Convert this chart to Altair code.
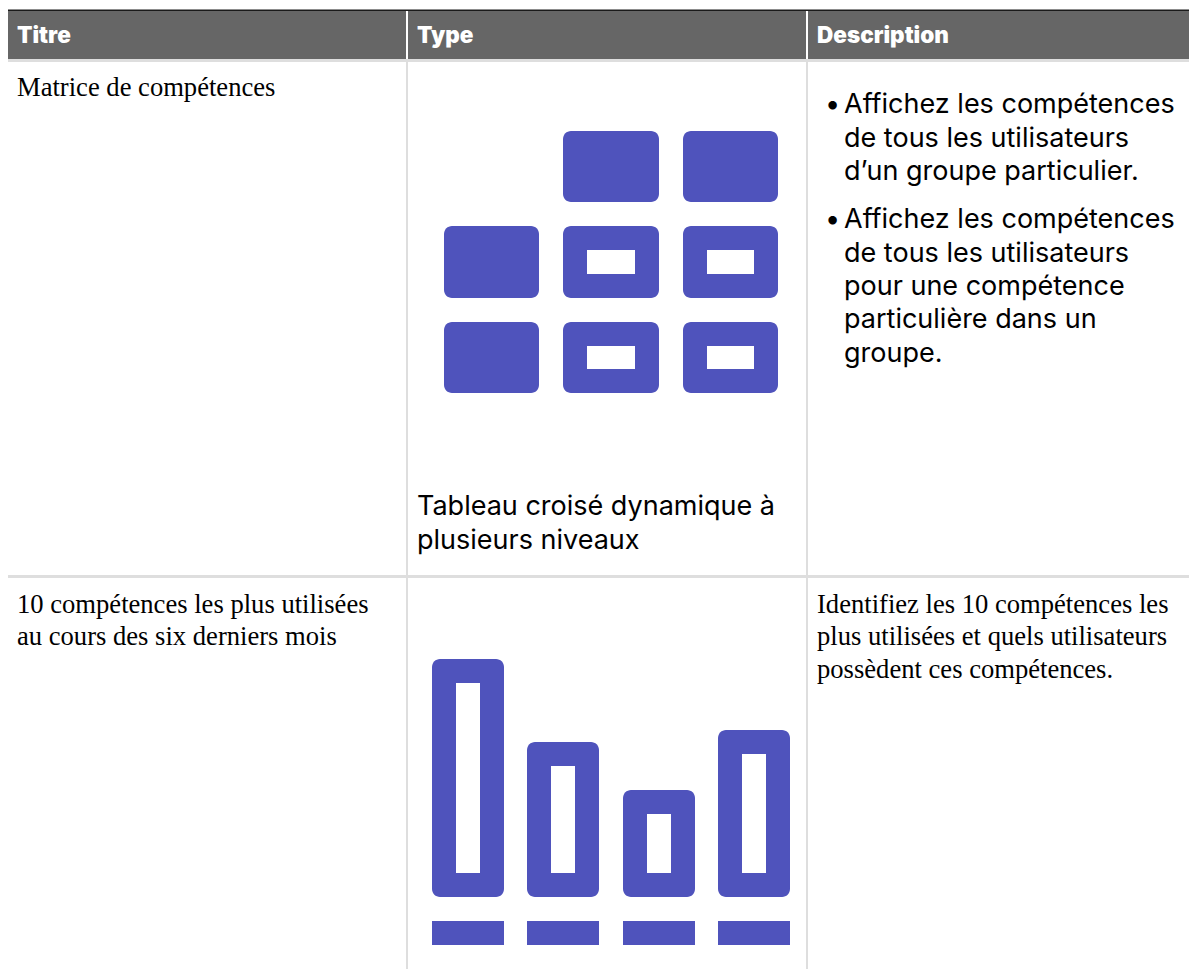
import altair as alt
import pandas as pd

# ---- content -------------------------------------------------------------
column_titles = ["Titre", "Type", "Description"]
row_titles = [["Matrice de compétences"],
              ["10 compétences les plus utilisées", "au cours des six derniers mois"]]
type_label = ["Tableau croisé dynamique à", "plusieurs niveaux"]
bullet_lines = [["Affichez les compétences", "de tous les utilisateurs", "d’un groupe particulier."],
                ["Affichez les compétences", "de tous les utilisateurs", "pour une compétence",
                 "particulière dans un", "groupe."]]
row2_description = ["Identifiez les 10 compétences les", "plus utilisées et quels utilisateurs",
                    "possèdent ces compétences."]
# pivot icon: 0 empty cell, 1 solid cell, 2 hollow cell
matrix_states = [[0, 1, 1], [1, 2, 2], [1, 2, 2]]
# bar icon: bar heights
bar_values = [238, 155, 107, 167]

# ---- layout and style ----------------------------------------------------
W, H = 1189, 969
PURPLE = "#4f53bc"
GRID = "#dedede"
HEAD = "#666666"
X = alt.X("x:Q", axis=None, scale=alt.Scale(domain=[8, W], range=[0, W - 8]))
Y = alt.Y("y:Q", axis=None, scale=alt.Scale(domain=[8, H], range=[0, H - 8]))
col_text_x = [17, 417, 817]
mx_edges = [(444, 539), (563, 659), (683, 778)]
my_edges = [(131, 202), (226, 298), (322, 393)]
bar_edges = [(432, 504), (527, 599), (623, 695), (718, 790)]
BAR_BOTTOM = 897
INSET = 24


def rects(items, color, radius=0):
    return alt.Chart(pd.DataFrame(items, columns=["x", "x2", "y", "y2"])).mark_rect(
        color=color, cornerRadius=radius
    ).encode(x=X, x2="x2:Q", y=Y, y2="y2:Q")


def texts(items, font, size, weight="normal", color="#000000"):
    return alt.Chart(pd.DataFrame(items, columns=["x", "y", "t"])).mark_text(
        align="left", baseline="alphabetic", font=font, fontSize=size,
        fontWeight=weight, color=color
    ).encode(x=X, y=Y, text="t:N")


layers = []
# table frame
layers.append(rects([(8, W, 11, 59)], HEAD))
layers.append(rects([(8, W, 9.5, 11)], "#1a1a1a"))
layers.append(rects([(406, 408, 11, 59), (806, 808, 11, 59)], "#ffffff"))
layers.append(rects([(8, W, 59, 62), (8, W, 575, 578)], GRID))
layers.append(rects([(406, 408, 62, H), (806, 808, 62, H)], GRID))

# header
layers.append(texts([(col_text_x[i], 43, t) for i, t in enumerate(column_titles)],
                    "Inter", 22.5, 900, "#ffffff"))

# first column and serif description
serif = [(col_text_x[0], 96, row_titles[0][0])]
serif += [(col_text_x[0], 612.5 + 32.5 * i, t) for i, t in enumerate(row_titles[1])]
serif += [(col_text_x[2], 612.5 + 32.5 * i, t) for i, t in enumerate(row2_description)]
layers.append(texts(serif, "Liberation Serif", 26.6))

# sans text
sans = [(col_text_x[1], 515 + 34 * i, t) for i, t in enumerate(type_label)]
bullet_y = [113, 146.5, 180, 228, 262, 295, 328, 362]
flat = [t for group in bullet_lines for t in group]
sans += [(844, bullet_y[i], t) for i, t in enumerate(flat)]
sans += [(825, bullet_y[0], "•"), (825, bullet_y[3], "•")]
layers.append(texts(sans, "Inter", 27))

# matrix icon
solid, holes = [], []
for r, row in enumerate(matrix_states):
    for c, state in enumerate(row):
        if state:
            solid.append((*mx_edges[c], *my_edges[r]))
        if state == 2:
            holes.append((mx_edges[c][0] + INSET, mx_edges[c][1] - INSET,
                          my_edges[r][0] + INSET, my_edges[r][1] - INSET))
layers.append(rects(solid, PURPLE, 8))
layers.append(rects(holes, "#ffffff"))

# bar icon
bars = [(a, b, BAR_BOTTOM - v, BAR_BOTTOM) for (a, b), v in zip(bar_edges, bar_values)]
bar_holes = [(a + INSET, b - INSET, t + INSET, y2 - INSET) for a, b, t, y2 in bars]
layers.append(rects(bars, PURPLE, 8))
layers.append(rects(bar_holes, "#ffffff"))
layers.append(rects([(a, b, 921, 945) for a, b in bar_edges], PURPLE))

chart = alt.layer(*layers).properties(
    width=W - 8, height=H - 8, padding=0,
    autosize=alt.AutoSizeParams(type="none"),
    background="#ffffff",
).configure_view(stroke=None)

chart.save("out.html", embed_options={"renderer": "svg", "actions": False})
